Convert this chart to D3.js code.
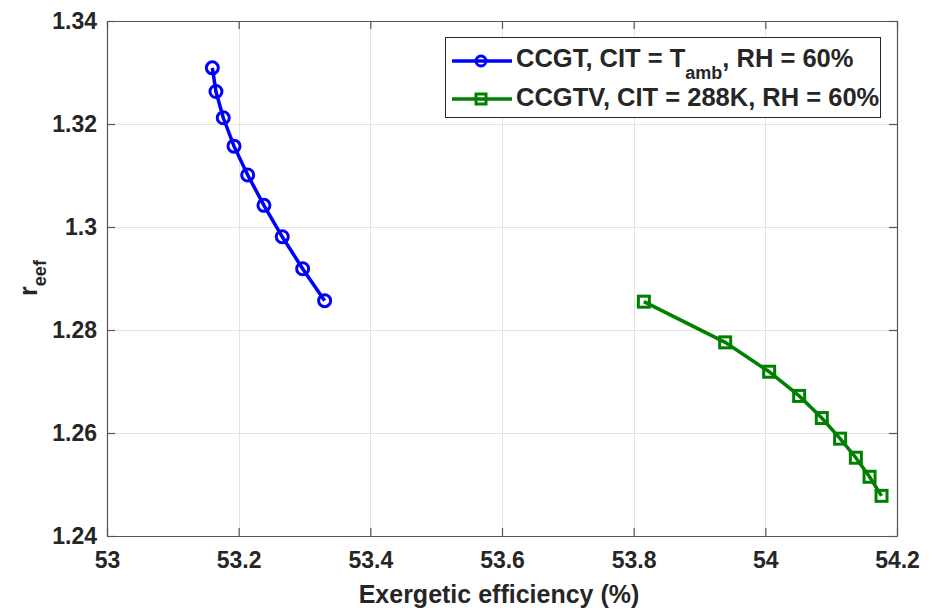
<!DOCTYPE html>
<html lang="en">
<head>
  <meta charset="UTF-8">
  <title>r_eef vs exergetic efficiency</title>
  <script src="https://d3js.org/d3.v7.min.js"></script>
  <style>
    body { margin: 0; background: #fff; }
    svg { display: block; font-family: "Liberation Sans", Arial, sans-serif; font-weight: bold; }
    .grid line { stroke: #e3e3e3; stroke-width: 1; shape-rendering: crispEdges; }
  </style>
</head>
<body>
  <svg id="chart" width="933" height="609"></svg>

  <script>
    // CCGT, CIT = Tamb
    const ccgtX = [53.160, 53.1655, 53.1766, 53.1929, 53.2137, 53.2384, 53.2662, 53.2972, 53.3306];
    const ccgtY = [1.3309, 1.3263, 1.3212, 1.3157, 1.3101, 1.3042, 1.2981, 1.2919, 1.2857];

    // CCGTV, CIT = 288K
    const ccgtvX = [53.8155, 53.939, 54.0058, 54.0514, 54.0858, 54.1136, 54.1375, 54.1583, 54.1765];
    const ccgtvY = [1.2855, 1.2776, 1.2719, 1.2672, 1.2629, 1.2589, 1.2552, 1.2515, 1.2478];

    const xTicks = [53, 53.2, 53.4, 53.6, 53.8, 54, 54.2];
    const yTicks = [1.24, 1.26, 1.28, 1.3, 1.32, 1.34];

    const svg = d3.select("#chart");
    const plotL = 107, plotR = 897, plotT = 21, plotB = 536;
    const textColor = "#262626";

    const xScale = d3.scaleLinear().domain([53, 54.2]).range([plotL, plotR]);
    const yScale = d3.scaleLinear().domain([1.24, 1.34]).range([plotB, plotT]);

    // grid
    svg.append("g").attr("class", "grid")
      .selectAll("line").data(xTicks.slice(1, -1)).join("line")
      .attr("x1", d => Math.round(xScale(d)) + 0.5).attr("x2", d => Math.round(xScale(d)) + 0.5)
      .attr("y1", plotT).attr("y2", plotB);
    svg.append("g").attr("class", "grid")
      .selectAll("line").data(yTicks.slice(1, -1)).join("line")
      .attr("y1", d => Math.round(yScale(d)) + 0.5).attr("y2", d => Math.round(yScale(d)) + 0.5)
      .attr("x1", plotL).attr("x2", plotR);

    // axes (MATLAB style, ticks inside)
    const fmt = d => String(+d.toFixed(2));
    const axB = svg.append("g").attr("transform", `translate(0,${plotB})`)
      .call(d3.axisBottom(xScale).tickValues(xTicks).tickFormat(fmt).tickSizeInner(-8).tickSizeOuter(0).tickPadding(16));
    const axT = svg.append("g").attr("transform", `translate(0,${plotT})`)
      .call(d3.axisTop(xScale).tickValues(xTicks).tickFormat("").tickSizeInner(-8).tickSizeOuter(0));
    const axL = svg.append("g").attr("transform", `translate(${plotL},0)`)
      .call(d3.axisLeft(yScale).tickValues(yTicks).tickFormat(fmt).tickSizeInner(-8).tickSizeOuter(0).tickPadding(10));
    const axR = svg.append("g").attr("transform", `translate(${plotR},0)`)
      .call(d3.axisRight(yScale).tickValues(yTicks).tickFormat("").tickSizeInner(-8).tickSizeOuter(0));

    [axB, axT, axL, axR].forEach(a => {
      a.selectAll("path,line").attr("stroke", "#555").attr("stroke-width", 1.2);
      a.selectAll("text").attr("fill", textColor).attr("font-size", 23)
        .attr("font-family", "Liberation Sans, Arial, sans-serif").attr("font-weight", "bold");
    });

    // series
    const line = d3.line().x(d => xScale(d[0])).y(d => yScale(d[1]));
    const ccgt = ccgtX.map((x, i) => [x, ccgtY[i]]);
    const ccgtv = ccgtvX.map((x, i) => [x, ccgtvY[i]]);

    svg.append("path").datum(ccgt).attr("d", line)
      .attr("fill", "none").attr("stroke", "#0000ff").attr("stroke-width", 3.5);
    svg.append("g").selectAll("circle").data(ccgt).join("circle")
      .attr("cx", d => xScale(d[0])).attr("cy", d => yScale(d[1])).attr("r", 6)
      .attr("fill", "none").attr("stroke", "#0000ff").attr("stroke-width", 3);

    svg.append("path").datum(ccgtv).attr("d", line)
      .attr("fill", "none").attr("stroke", "#008000").attr("stroke-width", 3.5);
    svg.append("g").selectAll("rect").data(ccgtv).join("rect")
      .attr("x", d => xScale(d[0]) - 5.5).attr("y", d => yScale(d[1]) - 5.5)
      .attr("width", 11).attr("height", 11)
      .attr("fill", "none").attr("stroke", "#008000").attr("stroke-width", 3);

    // axis labels
    svg.append("text").attr("x", (plotL + plotR) / 2 - 3).attr("y", 603)
      .attr("text-anchor", "middle").attr("font-size", 25).attr("fill", textColor)
      .text("Exergetic efficiency (%)");

    const yl = svg.append("text").attr("transform", "translate(37,278) rotate(-90)")
      .attr("text-anchor", "middle").attr("font-size", 25).attr("fill", textColor);
    yl.append("tspan").text("r");
    yl.append("tspan").attr("font-size", 18).attr("dy", 9).text("eef");

    // legend
    const lg = svg.append("g");
    lg.append("rect").attr("x", 445.5).attr("y", 37.5).attr("width", 435).attr("height", 80)
      .attr("fill", "#fff").attr("stroke", textColor).attr("stroke-width", 1);

    const r1 = 61, r2 = 99;
    lg.append("line").attr("x1", 452).attr("x2", 512).attr("y1", r1).attr("y2", r1)
      .attr("stroke", "#0000ff").attr("stroke-width", 3.5);
    lg.append("circle").attr("cx", 481).attr("cy", r1).attr("r", 5)
      .attr("fill", "none").attr("stroke", "#0000ff").attr("stroke-width", 3);
    const t1 = lg.append("text").attr("x", 516).attr("y", 67).attr("font-size", 25.5).attr("fill", textColor);
    t1.append("tspan").text("CCGT, CIT = T");
    t1.append("tspan").attr("font-size", 18).attr("dy", 12).text("amb");
    t1.append("tspan").attr("dy", -12).text(", RH = 60%");

    lg.append("line").attr("x1", 452).attr("x2", 512).attr("y1", r2).attr("y2", r2)
      .attr("stroke", "#008000").attr("stroke-width", 3.5);
    lg.append("rect").attr("x", 476).attr("y", r2 - 5).attr("width", 10).attr("height", 10)
      .attr("fill", "none").attr("stroke", "#008000").attr("stroke-width", 3);
    lg.append("text").attr("x", 516).attr("y", 106).attr("font-size", 25.5).attr("fill", textColor)
      .text("CCGTV, CIT = 288K, RH = 60%");
  </script>
</body>
</html>
